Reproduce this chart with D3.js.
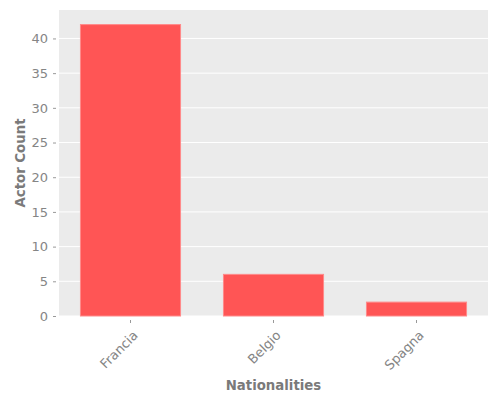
<!DOCTYPE html>
<html>
<head>
<meta charset="utf-8">
<script src="https://cdn.jsdelivr.net/npm/d3@7"></script>
<style>
body { margin: 0; background: #fff; }
text { font-family: "DejaVu Sans", sans-serif; }
</style>
</head>
<body>
<script>
// chart data
var nationalities = ["Francia", "Belgio", "Spagna"];
var actorCounts = [42, 6, 2];
var yTicks = [0, 5, 10, 15, 20, 25, 30, 35, 40];

var W = 500, H = 400;
var panel = {left: 59, right: 488, top: 10, bottom: 316};

var svg = d3.select("body").append("svg")
	.attr("width", W)
	.attr("height", H);

var x = d3.scaleBand()
	.domain(nationalities)
	.range([panel.left, panel.right])
	.paddingInner(0.3)
	.paddingOuter(0.15);

var y = d3.scaleLinear()
	.domain([0, 44.1])
	.range([panel.bottom, panel.top]);

// grey panel
svg.append("rect")
	.attr("x", panel.left)
	.attr("y", panel.top)
	.attr("width", panel.right - panel.left)
	.attr("height", panel.bottom - panel.top)
	.attr("fill", "#ebebeb");

// gridlines
svg.append("g").selectAll("line")
	.data(yTicks)
	.enter().append("line")
	.attr("x1", panel.left)
	.attr("x2", panel.right)
	.attr("y1", function(d){ return y(d); })
	.attr("y2", function(d){ return y(d); })
	.attr("stroke", "#fff")
	.attr("stroke-width", 1);

// bars
svg.append("g").selectAll("rect")
	.data(nationalities)
	.enter().append("rect")
	.attr("x", function(d){ return x(d); })
	.attr("y", function(d, i){ return y(actorCounts[i]); })
	.attr("width", x.bandwidth())
	.attr("height", function(d, i){ return y(0) - y(actorCounts[i]); })
	.attr("fill", "#ff5555")
	.attr("stroke", "#ff8a8a")
	.attr("stroke-width", 1);

// y axis (ticks sit a bit off the panel)
var yAxis = svg.append("g")
	.attr("transform", "translate(" + (panel.left - 3) + ",0)")
	.call(d3.axisLeft(y).tickValues(yTicks).tickSize(3).tickPadding(5));
yAxis.select(".domain").remove();
yAxis.selectAll("line").attr("stroke", "#999");
yAxis.selectAll("text")
	.attr("fill", "#858585")
	.style("font-size", "13px");

// x axis
var xAxis = svg.append("g")
	.attr("transform", "translate(0," + (panel.bottom + 4) + ")")
	.call(d3.axisBottom(x).tickSize(3).tickPadding(4));
xAxis.select(".domain").remove();
xAxis.selectAll("line").attr("stroke", "#999");
xAxis.selectAll("text")
	.attr("fill", "#858585")
	.style("font-size", "13px")
	.attr("text-anchor", "end")
	.attr("dy", "0.35em")
	.attr("transform", "translate(5,13) rotate(-45)")
	.attr("y", 0)
	.attr("x", 0);

// axis titles
svg.append("text")
	.attr("x", (panel.left + panel.right) / 2)
	.attr("y", 390)
	.attr("text-anchor", "middle")
	.attr("fill", "#7a7a7a")
	.style("font-size", "13.3px")
	.style("font-weight", "bold")
	.text("Nationalities");

svg.append("text")
	.attr("transform", "translate(25," + ((panel.top + panel.bottom) / 2) + ") rotate(-90)")
	.attr("text-anchor", "middle")
	.attr("fill", "#7a7a7a")
	.style("font-size", "13.3px")
	.style("font-weight", "bold")
	.text("Actor Count");
</script>
</body>
</html>
